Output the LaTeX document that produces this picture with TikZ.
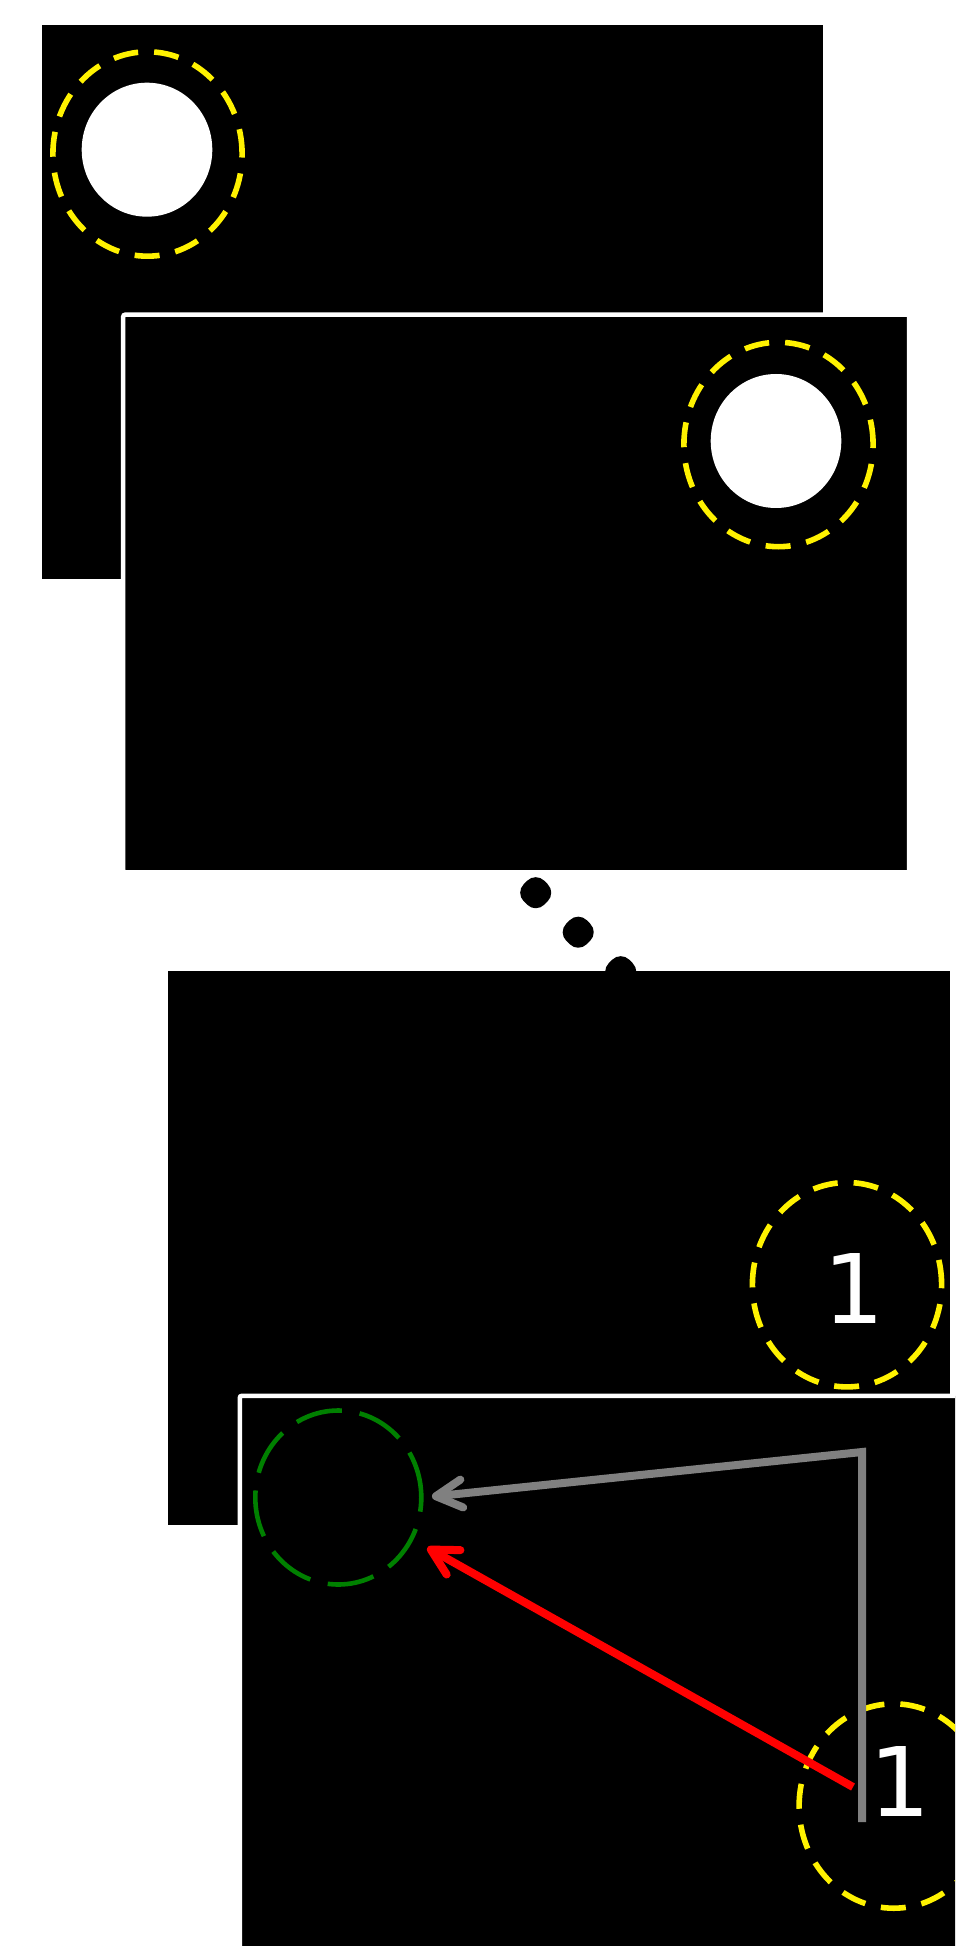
\documentclass[tikz,border=0pt]{standalone}
\usepackage{fontspec}
\newfontfamily\digitfont{DejaVu Sans}
\usetikzlibrary{arrows.meta, shapes.geometric}
\definecolor{hlgreen}{RGB}{0,128,0}

\begin{document}
\begin{tikzpicture}[x=0.5pt, y=-0.5pt, >={Straight Barb[length=13pt, width=14pt, round]},
		shot/.style={rectangle, fill=black, inner sep=0pt, outer sep=0pt, anchor=north west, minimum width=390.75pt, minimum height=277pt},
		framedshot/.style={shot, draw=white, line width=2.25pt, rounded corners=1pt, minimum width=393pt, minimum height=278.8pt},
		ring/.style={ellipse, draw=yellow, line width=2.8pt, dash pattern=on 12.5pt off 8pt, inner sep=0pt, minimum width=94.6pt, minimum height=102.2pt},
		lens/.style={ellipse, fill=white, inner sep=0pt, minimum width=65.3pt, minimum height=67pt},
		digit/.style={text=white, inner sep=0pt, font=\digitfont\fontsize{48}{48}\selectfont},
		goal/.style={ellipse, draw=hlgreen, line width=2.3pt, dash pattern=on 23.5pt off 9pt, inner sep=0pt, minimum width=83pt, minimum height=87pt},
		link/.style={->, line width=4pt}]
	\useasboundingbox (0,0) rectangle (955,1946);
	\clip (0,0) rectangle (955,1946);
	
	% first screen
	\node[shot] (shotA) at (41.5,25) {};
	\node[lens] (lensA) at (147,149.7) {};
	\node[ring] (ringA) at (147.5,154) {};
	
	% second screen, framed
	\node[framedshot] (shotB) at (123.2,314.7) {};
	\node[lens] (lensB) at (776,441) {};
	\node[ring] (ringB) at (778.5,444.5) {};
	
	% dots between the screens
	\foreach \k in {0,1,2}
		\fill[black, rounded corners=6pt] (535.7+42.5*\k, 872.2+39.5*\k) -- ++(20.5,20.5) -- ++(-20.5,20.5) -- ++(-20.5,-20.5) -- cycle;
	
	% third screen
	\node[shot] (shotC) at (168,971) {};
	\node[ring] (ringC) at (847,1284.7) {};
	\node[digit] (numC) at (854,1288) {1};
	
	% fourth screen, framed (runs off the page)
	\node[framedshot] (shotD) at (239.8,1395.8) {};
	\node[goal] (goalD) at (338.3,1497.5) {};
	\node[ring] (ringD) at (893.7,1806) {};
	\node[digit] (numD) at (900.3,1781.3) {1};
	
	% arrows to the target
	\coordinate (grayfoot) at (862,1822);
	\coordinate (graybend) at (862,1452);
	\coordinate (redfoot) at (853,1787);
	\draw[link, gray, shorten >=4.2pt] (grayfoot) -- (graybend) -- (goalD.east);
	\draw[link, red, shorten >=8pt] (redfoot) -- (goalD);
\end{tikzpicture}
\end{document}
